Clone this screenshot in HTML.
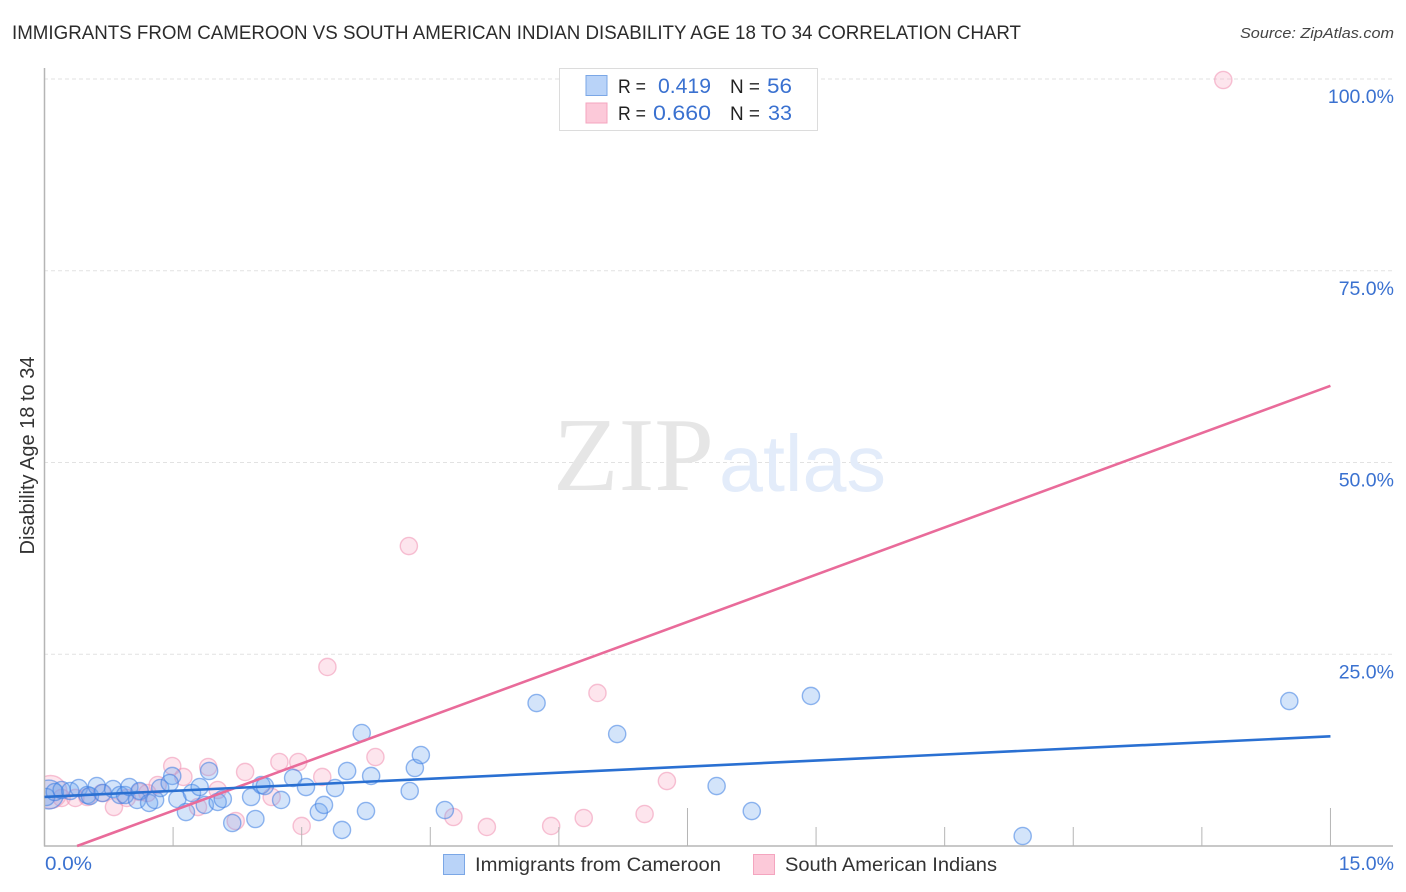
<!DOCTYPE html>
<html lang="en">
<head>
<meta charset="utf-8">
<title>Immigrants from Cameroon vs South American Indian Disability Age 18 to 34 Correlation Chart</title>
<style>
html,body{margin:0;padding:0;background:#fff;width:1406px;height:892px;overflow:hidden}
svg{display:block;font-family:"Liberation Sans",sans-serif}
</style>
</head>
<body>
<svg id="chart" width="1406" height="892" viewBox="0 0 1406 892" xmlns="http://www.w3.org/2000/svg">
  <text x="12" y="39" font-size="19" fill="#2b2b2b" textLength="1009" lengthAdjust="spacingAndGlyphs">IMMIGRANTS FROM CAMEROON VS SOUTH AMERICAN INDIAN DISABILITY AGE 18 TO 34 CORRELATION CHART</text>
  <text x="1394" y="38" font-size="15" font-style="italic" fill="#444" text-anchor="end" textLength="154" lengthAdjust="spacingAndGlyphs">Source: ZipAtlas.com</text>

  <g id="grid"></g>

  <g>
    <text x="553" y="490" font-family="'Liberation Serif',serif" font-size="105" fill="#e6e6e6" textLength="161" lengthAdjust="spacingAndGlyphs">ZIP</text>
    <text x="719" y="491" font-size="80" fill="#e3ecfa" textLength="167" lengthAdjust="spacingAndGlyphs">atlas</text>
  </g>

  <g>
    <g id="points-pink"></g>
    <g id="points-blue"></g>
  </g>
  <rect x="20" y="765" width="25" height="60" fill="#fff"/>
  <g id="axes"></g>
  <g id="trends"></g>
  <g id="labels"></g>

  <text transform="translate(34,455.5) rotate(-90)" font-size="20" fill="#333" text-anchor="middle" textLength="198" lengthAdjust="spacingAndGlyphs">Disability Age 18 to 34</text>

  <g>
    <rect x="559.5" y="68.5" width="258" height="62" fill="#fff" stroke="#dcdcdc" stroke-width="1"/>
    <rect x="586" y="75.5" width="21" height="20" fill="#b9d3f8" stroke="#7ba7e6" stroke-width="1"/>
    <rect x="586" y="103" width="21" height="20" fill="#fcc9d9" stroke="#f4a5bf" stroke-width="1"/>
    <text x="618" y="93" font-size="19" fill="#222" textLength="28" lengthAdjust="spacingAndGlyphs">R =</text>
    <text x="658" y="93" font-size="21" fill="#3a71d0" textLength="53" lengthAdjust="spacingAndGlyphs">0.419</text>
    <text x="730" y="93" font-size="19" fill="#222" textLength="30" lengthAdjust="spacingAndGlyphs">N =</text>
    <text x="767" y="93" font-size="21" fill="#3a71d0" textLength="25" lengthAdjust="spacingAndGlyphs">56</text>
    <text x="618" y="120" font-size="19" fill="#222" textLength="28" lengthAdjust="spacingAndGlyphs">R =</text>
    <text x="653" y="120" font-size="21" fill="#3a71d0" textLength="58" lengthAdjust="spacingAndGlyphs">0.660</text>
    <text x="730" y="120" font-size="19" fill="#222" textLength="30" lengthAdjust="spacingAndGlyphs">N =</text>
    <text x="768" y="120" font-size="21" fill="#3a71d0" textLength="24" lengthAdjust="spacingAndGlyphs">33</text>
  </g>

  <g>
    <rect x="443.5" y="854.5" width="21" height="20" fill="#b9d3f8" stroke="#7ba7e6" stroke-width="1"/>
    <text x="475" y="871" font-size="19" fill="#333" textLength="246" lengthAdjust="spacingAndGlyphs">Immigrants from Cameroon</text>
    <rect x="753.5" y="854.5" width="21" height="20" fill="#fcc9d9" stroke="#f4a5bf" stroke-width="1"/>
    <text x="785" y="871" font-size="19" fill="#333" textLength="212" lengthAdjust="spacingAndGlyphs">South American Indians</text>
  </g>
</svg>
<script>
// Series values: x = percent of immigrants, y = disability percent
const blueX = [0.05,0.02,0.12,0.20,0.30,0.40,0.50,0.53,0.61,0.68,0.80,0.88,0.94,0.99,1.08,1.11,1.22,1.29,1.35,1.49,1.46,1.55,1.65,1.72,1.81,1.87,1.92,2.02,2.08,2.19,2.41,2.46,2.53,2.57,2.76,2.90,3.05,3.20,3.26,3.39,3.47,3.53,3.75,3.70,3.81,4.26,4.32,4.39,4.67,5.74,6.68,7.84,8.25,8.94,11.41,14.52];
const blueY = [6.71,6.39,7.04,7.30,7.17,7.56,6.65,6.52,7.82,6.91,7.43,6.65,6.65,7.69,6.00,7.17,5.61,6.00,7.56,9.13,8.21,6.13,4.43,6.91,7.69,5.35,9.78,5.74,6.13,3.00,6.39,3.52,7.95,7.82,6.00,8.87,7.69,4.43,5.35,7.56,2.09,9.78,4.56,14.73,9.13,7.17,10.17,11.86,4.69,18.64,14.60,7.82,4.56,19.56,1.30,18.90];
const pinkX = [0.07,0.20,0.36,0.50,0.67,0.81,0.96,1.11,1.20,1.32,1.49,1.62,1.79,1.91,2.02,2.23,2.34,2.65,2.74,2.96,3.24,3.00,3.30,4.25,3.86,4.77,5.16,5.91,6.29,6.45,7.00,7.26,13.75];
const pinkY = [7.04,6.26,6.26,6.39,6.91,5.08,6.26,7.04,6.91,7.95,10.43,9.00,5.08,10.30,7.30,3.26,9.65,6.39,10.95,10.95,9.00,2.61,23.34,39.11,11.60,3.78,2.48,2.61,3.65,19.95,4.17,8.47,99.87];
const blueTrendX = [0, 15];
const blueTrendY = [6.4, 14.3];
const pinkTrendX = [0.38, 15];
const pinkTrendY = [0, 60];
const xTickValues = [1.5,3,4.5,6,7.5,9,10.5,12,13.5,15];
const xMajorTicks = [7.5,15];
const yTickValues = [25,50,75,100];
const xTickLabels = ["0.0%","15.0%"];
const yTickLabels = ["25.0%","50.0%","75.0%","100.0%"];

const NS = 'http://www.w3.org/2000/svg';
const xScale = v => 44.5 + v * 85.73;
const yScale = v => 846 - v * 7.67;

function make(parent, tag, attrs) {
  const el = document.createElementNS(NS, tag);
  for (const k in attrs) el.setAttribute(k, attrs[k]);
  parent.appendChild(el);
  return el;
}

const grid = document.getElementById('grid');
yTickValues.forEach(v => {
  const line = make(grid, 'line', {x1:44, x2:1393, y1:yScale(v), y2:yScale(v), stroke:'#e2e2e2', 'stroke-width':1, 'stroke-dasharray':'4 3'});
  
  
});

const axes = document.getElementById('axes');
const yAxis = make(axes, 'line', {x1:44.5, x2:44.5, y1:68, y2:846.5, stroke:'#b5b5b5', 'stroke-width':1.5});


const xAxis = make(axes, 'line', {x1:44, x2:1393, y1:846, y2:846, stroke:'#b5b5b5', 'stroke-width':1.5});


xTickValues.forEach(v => {
  const major = xMajorTicks.includes(v);
  const tick = make(axes, 'line', {x1:xScale(v), x2:xScale(v), y1: major ? 808 : 827, y2:846, stroke:'#b5b5b5', 'stroke-width':1});
  
  
});

function drawPoints(group, xs, ys, fill, stroke, name, firstRadius) {
  xs.forEach((x, i) => {
    const c = make(group, 'circle', {cx:xScale(x), cy:yScale(ys[i]), r: i === 0 ? firstRadius : 8.6, fill:fill, stroke:stroke, 'stroke-width':1.4});
    
    
  });
}
drawPoints(document.getElementById('points-pink'), pinkX, pinkY, 'rgba(248,170,195,0.3)', 'rgba(240,145,178,0.55)', 'south-american-indians-point', 16.5);
drawPoints(document.getElementById('points-blue'), blueX, blueY, 'rgba(110,165,240,0.3)', 'rgba(60,125,225,0.55)', 'cameroon-point', 14.5);

const trends = document.getElementById('trends');
const pinkLine = make(trends, 'line', {x1:xScale(pinkTrendX[0]), y1:yScale(pinkTrendY[0]), x2:xScale(pinkTrendX[1]), y2:yScale(pinkTrendY[1]), stroke:'#e96b9a', 'stroke-width':2.6});


const blueLine = make(trends, 'line', {x1:xScale(blueTrendX[0]), y1:yScale(blueTrendY[0]), x2:xScale(blueTrendX[1]), y2:yScale(blueTrendY[1]), stroke:'#2a70d2', 'stroke-width':2.6});



const labels = document.getElementById('labels');
yTickValues.forEach((v, i) => {
  const t = make(labels, 'text', {x:1394, y:yScale(v) + 24, 'text-anchor':'end', 'font-size':19.5, fill:'#3a71d0'});
  t.textContent = yTickLabels[i];
  
  
});
const xl0 = make(labels, 'text', {x:45, y:870, 'font-size':19.5, fill:'#3a71d0', textLength:47, lengthAdjust:'spacingAndGlyphs'});
xl0.textContent = xTickLabels[0];


const xl1 = make(labels, 'text', {x:1394, y:870, 'text-anchor':'end', 'font-size':19.5, fill:'#3a71d0'});
xl1.textContent = xTickLabels[1];


</script>
</body>
</html>
